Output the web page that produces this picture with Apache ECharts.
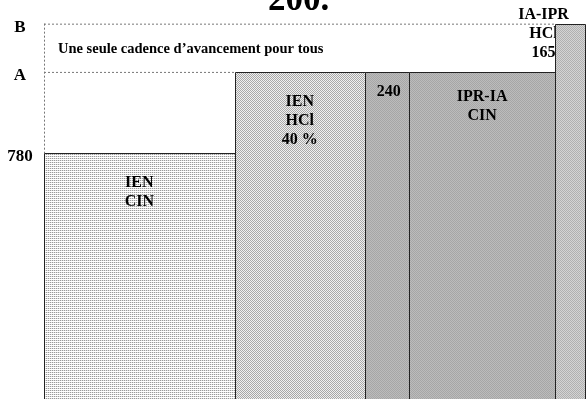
<!DOCTYPE html>
<html>
<head>
<meta charset="utf-8">
<script src="https://cdn.jsdelivr.net/npm/echarts@6/dist/echarts.min.js"></script>
<style>
  html, body { margin: 0; padding: 0; background: #fff; }
  #chart { width: 587px; height: 399px; }
</style>
</head>
<body>
<div id="chart"></div>
<script>
// groups, left to right
const categories = ['IEN CIN', 'IEN HCl', 'HCl 240', 'IPR-IA CIN', 'IA-IPR HCl']
const labels = ['IEN\nCIN', 'IEN\nHCl\n40 %', '240', 'IPR-IA\nCIN', 'IA-IPR\nHCl\n165']
// width of each column (headcount) and height (level reached)
const widths = [1040, 710, 240, 800, 165]
const heights = [780, 1037, 1037, 1037, 1190]
// levels on the left
const levelValues = [780, 1037, 1190]
const levelNames = ['780', 'A', 'B']
const bandText = 'Une seule cadence d\u2019avancement pour tous'
const titleText = '200.'

// layout / styling (not data)
const labelOffset = [[0, 20], [0, 20], [2, 10], [0, 15], [-27, -18]]
const font = 'Liberation Serif'

function makePattern (rows) {
  const c = document.createElement('canvas')
  c.height = rows.length
  c.width = rows[0].length
  const ctx = c.getContext('2d')
  rows.forEach((row, y) => row.forEach((col, x) => {
    ctx.fillStyle = col
    ctx.fillRect(x, y, 1, 1)
  }))
  return { image: c, repeat: 'repeat' }
}

const fills = [
  makePattern([['#9a9a9a', '#e2e2e2'], ['#ffffff', '#ffffff']]),
  makePattern([['#a8a8a8', '#f0f0f0'], ['#f0f0f0', '#a8a8a8']]),
  makePattern([['#a6a6a6', '#bcbcbc'], ['#bcbcbc', '#a6a6a6']]),
  makePattern([['#a6a6a6', '#bcbcbc'], ['#bcbcbc', '#a6a6a6']]),
  makePattern([['#b0b0b0', '#d4d4d4'], ['#d4d4d4', '#b0b0b0']])
]

// cumulative x extents
let acc = 0
const barData = widths.map((w, i) => {
  const item = [acc, acc + w, heights[i]]
  acc += w
  return item
})

const chart = echarts.init(document.getElementById('chart'), null, { renderer: 'canvas' })

chart.setOption({
  animation: false,
  title: {
    text: titleText,
    left: 263,
    top: -22,
    textStyle: { fontFamily: font, fontWeight: 'bold', fontSize: 35, color: '#000' }
  },
  grid: { left: 44, right: 0, top: 0, bottom: 0 },
  xAxis: {
    type: 'value',
    min: 0,
    max: 2962,
    show: false
  },
  yAxis: {
    type: 'value',
    min: 0,
    max: 1265,
    axisLine: { show: false },
    axisTick: { show: false },
    splitLine: { show: false },
    axisLabel: {
      customValues: levelValues,
      formatter: (v) => levelNames[levelValues.indexOf(v)],
      align: 'center',
      verticalAlign: 'top',
      lineHeight: 7,
      margin: 24,
      fontFamily: font,
      fontWeight: 'bold',
      fontSize: 17,
      color: '#000'
    }
  },
  series: [
    {
      // dashed frame of the "single pace" band
      type: 'custom',
      z: 1,
      silent: true,
      data: [[0]],
      renderItem: (params, api) => {
        const topY = api.coord([0, heights[4]])[1]
        const midY = api.coord([0, heights[1]])[1]
        const lowY = api.coord([0, heights[0]])[1]
        const left = api.coord([0, 0])[0]
        const aEnd = api.coord([barData[1][0], 0])[0]
        const bEnd = api.coord([barData[4][0], 0])[0]
        const ls = { stroke: '#777', lineWidth: 1, lineDash: [2, 2] }
        return {
          type: 'group',
          children: [
            { type: 'line', shape: { x1: left, y1: topY + 0.5, x2: bEnd, y2: topY + 0.5 }, style: ls },
            { type: 'line', shape: { x1: left, y1: midY + 0.5, x2: aEnd, y2: midY + 0.5 }, style: ls },
            { type: 'line', shape: { x1: left + 0.5, y1: topY, x2: left + 0.5, y2: lowY }, style: ls },
            {
              type: 'text',
              x: left + 14,
              y: (topY + midY) / 2 + 1,
              style: {
                text: bandText,
                font: 'bold 14.5px ' + font,
                fill: '#000',
                textAlign: 'left',
                textVerticalAlign: 'middle'
              }
            }
          ]
        }
      }
    },
    {
      type: 'custom',
      z: 2,
      name: 'effectifs',
      data: barData,
      encode: { x: [0, 1], y: 2 },
      renderItem: (params, api) => {
        const i = params.dataIndex
        const p0 = api.coord([api.value(0), api.value(2)])
        const p1 = api.coord([api.value(1), 0])
        const cx = (p0[0] + p1[0]) / 2
        return {
          type: 'group',
          children: [
            {
              type: 'text',
              x: cx + labelOffset[i][0],
              y: p0[1] + labelOffset[i][1],
              style: {
                text: labels[i],
                font: 'bold 16px ' + font,
                lineHeight: 19,
                fill: '#000',
                textAlign: 'center',
                textVerticalAlign: 'top'
              },
              z2: i === 4 ? 0 : 10
            },
            {
              type: 'rect',
              shape: {
                x: Math.round(p0[0]) + 0.5,
                y: Math.round(p0[1]) + 0.5,
                width: Math.round(p1[0] - p0[0]),
                height: Math.round(p1[1] - p0[1]) + 2
              },
              style: { fill: fills[i], stroke: '#222', lineWidth: 1 },
              z2: 5
            }
          ]
        }
      }
    }
  ]
})
</script>
</body>
</html>
